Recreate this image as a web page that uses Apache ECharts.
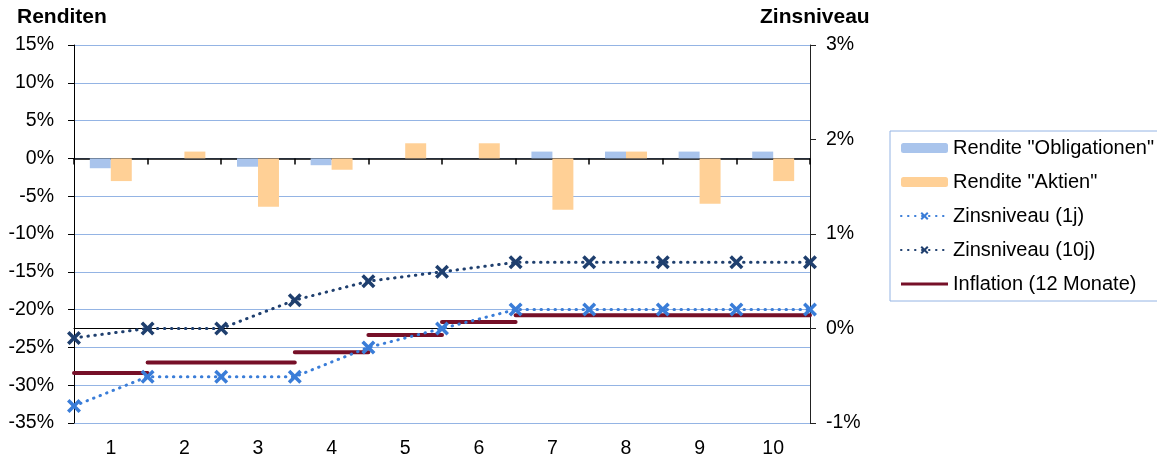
<!DOCTYPE html>
<html>
<head>
<meta charset="utf-8">
<script src="https://cdn.jsdelivr.net/npm/echarts@6/dist/echarts.min.js"></script>
<style>
html,body{margin:0;padding:0;background:#fff;}
#chart{width:1157px;height:459px;}
</style>
</head>
<body>
<div id="chart"></div>
<script>
// ---- data ----
const categories = ['1','2','3','4','5','6','7','8','9','10'];
const renditeObligationen = [-1.3, 0, -1.1, -0.9, 0, 0, 0.9, 0.9, 0.9, 0.9];   // % (left axis)
const renditeAktien = [-3.0, 0.9, -6.4, -1.5, 2.0, 2.0, -6.8, 0.9, -6.0, -3.0]; // % (left axis)
const zins1j = [-0.82, -0.51, -0.51, -0.51, -0.2, 0.0, 0.2, 0.2, 0.2, 0.2, 0.2];   // % (right axis), at period boundaries
const zins10j = [-0.1, 0.0, 0.0, 0.3, 0.5, 0.6, 0.7, 0.7, 0.7, 0.7, 0.7];          // % (right axis)
const inflation = [-0.47, -0.36, -0.36, -0.25, -0.07, 0.07, 0.14, 0.14, 0.14, 0.14]; // % per period (right axis)
const leftTicks = {min: -35, max: 15, interval: 5};
const rightTicks = {min: -1, max: 3, interval: 1};
const seriesNames = ['Rendite "Obligationen"', 'Rendite "Aktien"', 'Zinsniveau (1j)', 'Zinsniveau (10j)', 'Inflation (12 Monate)'];

const FONT = "'Liberation Sans', Arial, sans-serif";
const crossPath = 'path://M2.5,0 L7,4.5 L11.5,0 L14,2.5 L9.5,7 L14,11.5 L11.5,14 L7,9.5 L2.5,14 L0,11.5 L4.5,7 L0,2.5 Z';
const GRID_BLUE = '#94B4E4';

const boundaryData = arr => arr.map((v, i) => [i, v]);
const inflationData = [];
inflation.forEach((v, i) => {
  inflationData.push([i, v], [i + 1, v], [i + 1, '-']);
});

const chart = echarts.init(document.getElementById('chart'), null, {renderer: 'canvas'});
chart.setOption({
  animation: false,
  textStyle: {fontFamily: FONT},
  title: [
    {text: 'Renditen', left: 17, top: 7, padding: 0,
     textStyle: {fontFamily: FONT, fontSize: 21, fontWeight: 'bold', color: '#000'}},
    {text: 'Zinsniveau', left: 760, top: 7, padding: 0,
     textStyle: {fontFamily: FONT, fontSize: 21, fontWeight: 'bold', color: '#000'}}
  ],
  legend: {
    orient: 'vertical', left: 890, top: 131,
    padding: [7, 30, 7, 10],
    borderColor: GRID_BLUE, borderWidth: 1,
    itemWidth: 47, itemHeight: 10, itemGap: 14,
    textStyle: {fontFamily: FONT, fontSize: 20, color: '#000', lineHeight: 20},
    data: [
      seriesNames[0], seriesNames[1], seriesNames[2], seriesNames[3],
      {name: seriesNames[4], icon: 'path://M0,0 L47,0 L47,3 L0,3 Z'}
    ]
  },
  grid: {left: 74, right: 347, top: 45, bottom: 34, containLabel: false},
  xAxis: [
    {type: 'category', data: categories, gridIndex: 0, position: 'bottom', boundaryGap: true,
     axisLine: {show: true, onZero: true, onZeroAxisIndex: 0, lineStyle: {color: '#000', width: 1.5}},
     axisTick: {show: true, interval: 0, length: 6, lineStyle: {color: '#000', width: 1.5}},
     axisLabel: {show: false}, splitLine: {show: false}},
    {type: 'category', data: categories, gridIndex: 0, position: 'bottom', boundaryGap: true,
     axisLine: {show: false, onZero: false}, axisTick: {show: false},
     axisLabel: {show: true, interval: 0, margin: 16, fontFamily: FONT, fontSize: 19.5, color: '#000'},
     splitLine: {show: false}},
    {type: 'value', min: 0, max: 10, gridIndex: 0, position: 'bottom', show: true,
     axisLine: {show: true, onZero: true, onZeroAxisIndex: 1, lineStyle: {color: '#000', width: 1}},
     axisTick: {show: false}, axisLabel: {show: false}, splitLine: {show: false}}
  ],
  yAxis: [
    {type: 'value', position: 'left', min: leftTicks.min, max: leftTicks.max, interval: leftTicks.interval,
     axisLine: {show: true, onZero: false, lineStyle: {color: '#000', width: 1}},
     axisTick: {show: true, length: 6, lineStyle: {color: '#000'}},
     axisLabel: {formatter: '{value}%', margin: 20, fontFamily: FONT, fontSize: 19.5, color: '#000'},
     splitLine: {show: true, lineStyle: {color: GRID_BLUE, width: 1}}},
    {type: 'value', position: 'right', min: rightTicks.min, max: rightTicks.max, interval: rightTicks.interval,
     axisLine: {show: true, onZero: false, lineStyle: {color: '#222', width: 1}},
     axisTick: {show: true, length: 6, lineStyle: {color: '#222'}},
     axisLabel: {formatter: '{value}%', margin: 16, fontFamily: FONT, fontSize: 19.5, color: '#000'},
     splitLine: {show: false}}
  ],
  series: [
    {name: seriesNames[0], type: 'bar', xAxisIndex: 0, yAxisIndex: 0, data: renditeObligationen,
     barGap: '0%', barCategoryGap: '43%', itemStyle: {color: '#A9C4EC'}},
    {name: seriesNames[1], type: 'bar', xAxisIndex: 0, yAxisIndex: 0, data: renditeAktien,
     barGap: '0%', barCategoryGap: '43%', itemStyle: {color: '#FFD096'}},
    {name: seriesNames[2], type: 'line', xAxisIndex: 2, yAxisIndex: 1, data: boundaryData(zins1j),
     symbol: crossPath, symbolSize: 14, showAllSymbol: true, z: 5,
     lineStyle: {color: '#3A7DD8', width: 3, type: [0.5, 6.5], cap: 'round'},
     itemStyle: {color: '#3A7DD8'}},
    {name: seriesNames[3], type: 'line', xAxisIndex: 2, yAxisIndex: 1, data: boundaryData(zins10j),
     symbol: crossPath, symbolSize: 14, showAllSymbol: true, z: 5,
     lineStyle: {color: '#1F3F6E', width: 3, type: [0.5, 6.5], cap: 'round'},
     itemStyle: {color: '#1F3F6E'}},
    {name: seriesNames[4], type: 'line', xAxisIndex: 2, yAxisIndex: 1, data: inflationData,
     symbol: 'none', connectNulls: false, z: 4,
     lineStyle: {color: '#761028', width: 4, cap: 'round'},
     itemStyle: {color: '#761028'}}
  ]
});
</script>
</body>
</html>
